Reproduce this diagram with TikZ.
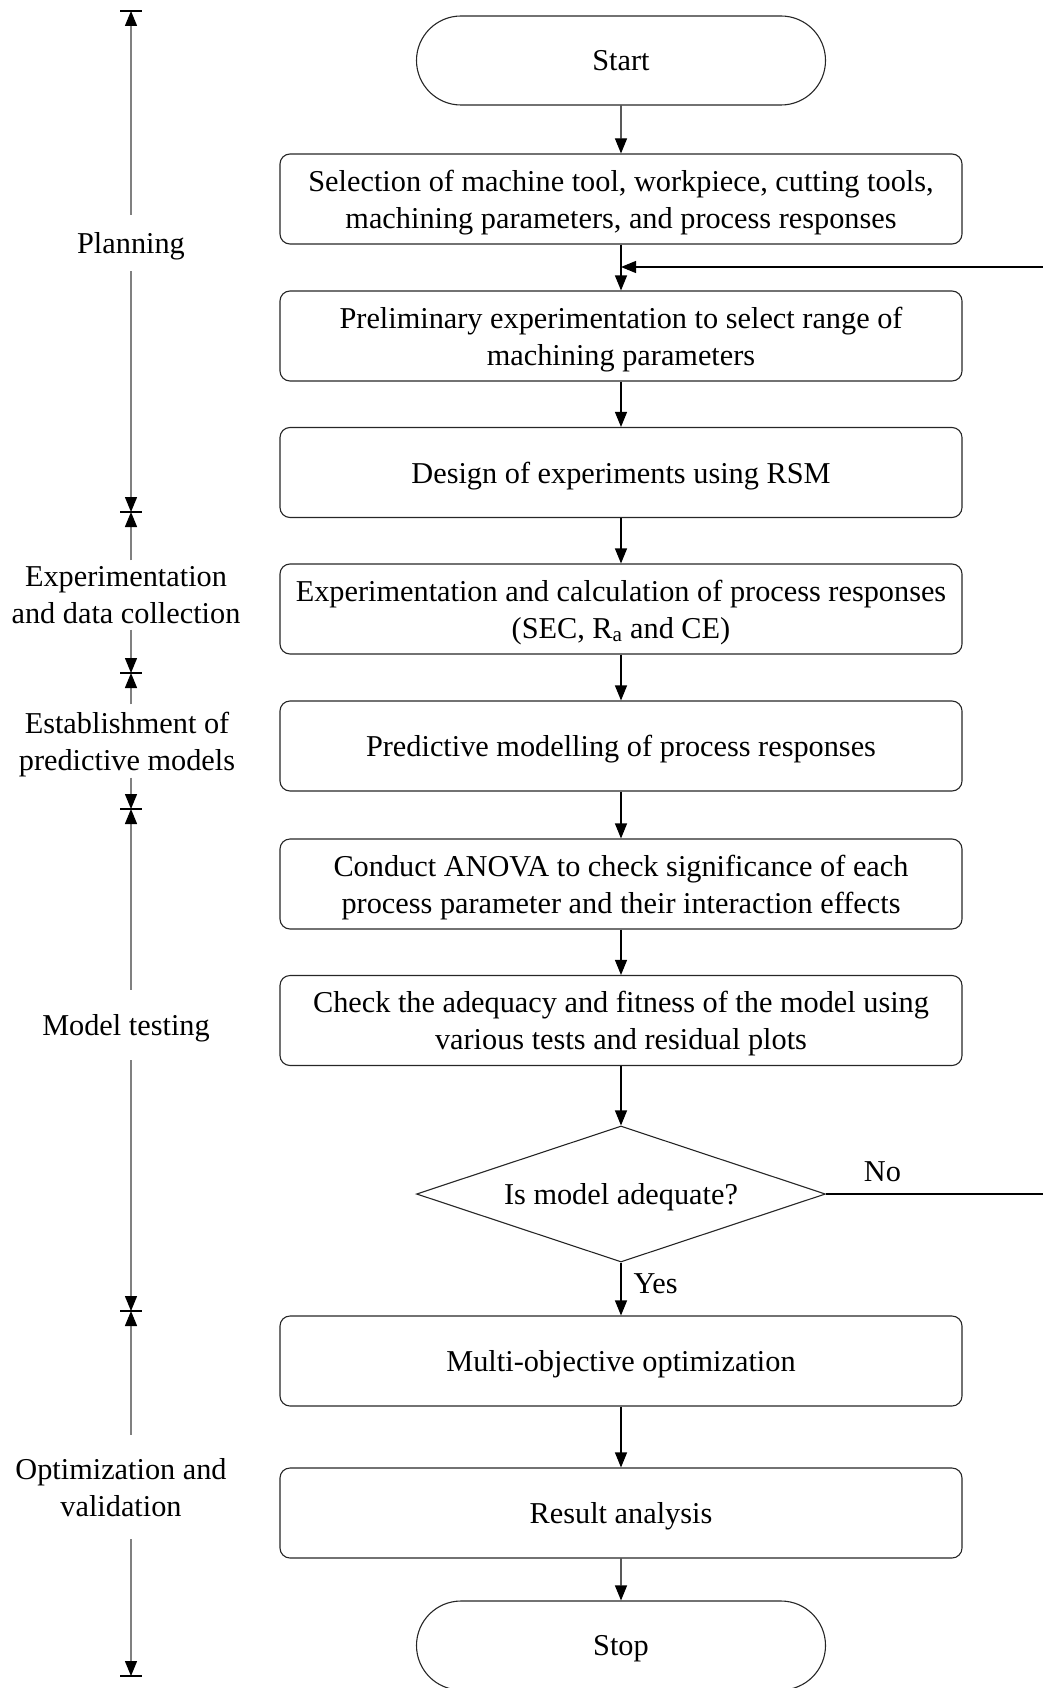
\documentclass[tikz,border=0pt]{standalone}
\usepackage{fontspec}
\setmainfont{Liberation Serif}
\usetikzlibrary{shapes.geometric,shapes.misc,arrows.meta}
\begin{document}
\begin{tikzpicture}[x=1pt,y=-1pt,
  font=\fontsize{30.3}{37}\selectfont,
  every node/.style={inner sep=0pt},
  box/.style={draw=black!85, line width=1.1pt, rounded corners=10pt, minimum width=682pt, minimum height=90pt, align=center, text depth=0pt},
  term/.style={draw=black!85, line width=1.1pt, rounded rectangle, minimum width=409pt, minimum height=89pt, text depth=0pt},
  dec/.style={draw=black!85, line width=1.1pt, diamond, aspect=3, minimum width=409pt, minimum height=136pt, text depth=0pt},
  flow/.style={draw=black, line width=1.1pt, -{Triangle[length=15pt,width=12pt]}},
  side/.style={align=center, text depth=0pt},
  phase/.style={draw=black!50, line width=1.3pt, -{Triangle[length=15pt,width=12pt,color=black]}},
  tick/.style={draw=black, line width=1.1pt}
]
\useasboundingbox (0,0) rectangle (1043,1688);

% main flow
\node[term] (start) at (621,60.5) {Start};
\node[box] (b1) at (621,199) {Selection of machine tool, workpiece, cutting tools,\\machining parameters, and process responses};
\node[box] (b2) at (621,336) {Preliminary experimentation to select range of\\machining parameters};
\node[box] (b3) at (621,472.5) {Design of experiments using RSM};
\node[box] (b4) at (621,609) {Experimentation and calculation of process responses\\(SEC, R\textsubscript{a} and CE)};
\node[box] (b5) at (621,746) {Predictive modelling of process responses};
\node[box] (b6) at (621,884) {Conduct ANOVA to check significance of each\\process parameter and their interaction effects};
\node[box] (b7) at (621,1020.5) {Check the adequacy and fitness of the model using\\various tests and residual plots};
\node[dec] (d) at (621,1194) {Is model adequate?};
\node[box] (b8) at (621,1361) {Multi-objective optimization};
\node[box] (b9) at (621,1513) {Result analysis};
\node[term] (stop) at (621,1645.5) {Stop};

\draw[flow] (start) -- (b1);
\draw[flow] (b1) -- (b2);
\draw[flow] (b2) -- (b3);
\draw[flow] (b3) -- (b4);
\draw[flow] (b4) -- (b5);
\draw[flow] (b5) -- (b6);
\draw[flow] (b6) -- (b7);
\draw[flow] (b7) -- (d);
\draw[flow] (d) -- node[pos=0.4, right=12pt] (yes) {Yes} (b8);
\draw[flow] (b8) -- (b9);
\draw[flow] (b9) -- (stop);

% feedback (continues beyond the right edge)
\coordinate (noEnd) at (1043,1194);
\coordinate (fbStart) at (1043,267);
\coordinate (fbEnd) at (621,267);
\draw[line width=1.1pt] (d.east) -- node[pos=0.26, above=12pt] (no) {No} (noEnd);
\draw[flow] (fbStart) -- (fbEnd);

% phase ticks
\coordinate (t0) at (131,11);
\coordinate (t1) at (131,512);
\coordinate (t2) at (131,673);
\coordinate (t3) at (131,809);
\coordinate (t4) at (131,1311);
\coordinate (t5) at (131,1676);
\foreach \t in {t0,t1,t2,t3,t4,t5}
  \draw[tick] ([xshift=-11pt]\t) -- ([xshift=11pt]\t);

% phase labels
\node[side, minimum height=56pt] (p1) at (131,243) {Planning};
\node[side, minimum height=69pt] (p2) at (126,595) {Experimentation\\and data collection};
\node[side, minimum height=73pt] (p3) at (127,741) {Establishment of\\predictive models};
\node[side, minimum height=70pt] (p4) at (126,1025) {Model testing};
\node[side, minimum height=104pt] (p5) at (121,1487) {Optimization and\\validation};

\draw[phase] (t0 |- p1.north) -- (t0);
\draw[phase] (t0 |- p1.south) -- (t1);
\draw[phase] (t0 |- p2.north) -- (t1);
\draw[phase] (t0 |- p2.south) -- (t2);
\draw[phase] (t0 |- p3.north) -- (t2);
\draw[phase] (t0 |- p3.south) -- (t3);
\draw[phase] (t0 |- p4.north) -- (t3);
\draw[phase] (t0 |- p4.south) -- (t4);
\draw[phase] (t0 |- p5.north) -- (t4);
\draw[phase] (t0 |- p5.south) -- (t5);
\end{tikzpicture}
\end{document}
